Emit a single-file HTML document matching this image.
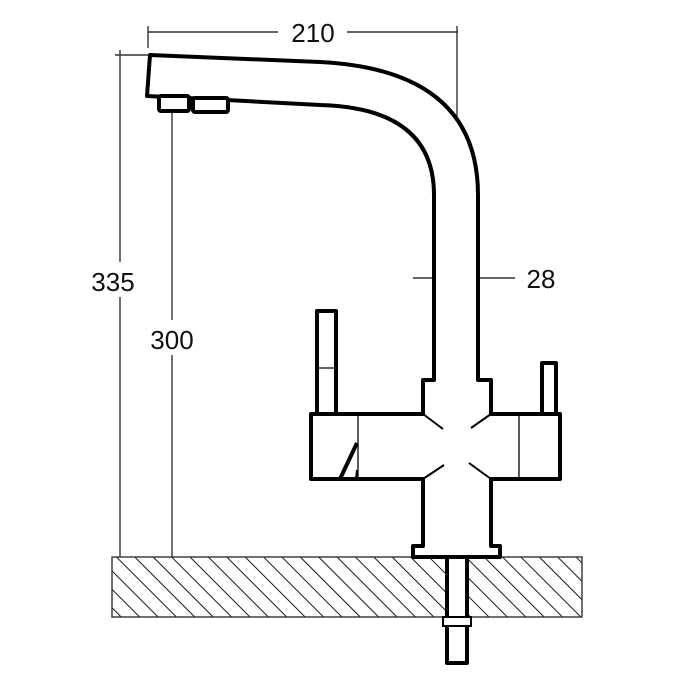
<!DOCTYPE html>
<html><head><meta charset="utf-8"><style>
html,body{margin:0;padding:0;background:#fff}
svg{display:block}
text{font-family:"Liberation Sans",sans-serif;font-size:26px;fill:#111}
</style></head><body>
<svg width="680" height="680" viewBox="0 0 680 680">
<defs>
<pattern id="h" width="13" height="13" patternUnits="userSpaceOnUse" patternTransform="rotate(-45)">
<line x1="0" y1="0" x2="0" y2="13" stroke="#000" stroke-width="1.8"/>
</pattern>
</defs>
<rect x="112" y="557" width="470" height="60" fill="url(#h)" stroke="#333" stroke-width="1.4"/>
<g stroke="#333" stroke-width="1.4" fill="none">
<line x1="148" y1="32" x2="278" y2="32"/><line x1="347" y1="32" x2="458" y2="32"/>
<line x1="148" y1="26" x2="148" y2="48"/><line x1="457" y1="26" x2="457" y2="252"/>
<line x1="115" y1="55" x2="148" y2="55"/>
<line x1="120" y1="50" x2="120" y2="262"/><line x1="120" y1="297" x2="120" y2="557"/>
<line x1="172" y1="110" x2="172" y2="320"/><line x1="172" y1="355" x2="172" y2="557"/>
<line x1="413" y1="278" x2="434" y2="278"/><line x1="478" y1="278" x2="515" y2="278"/>
</g>
<text x="313" y="42" text-anchor="middle">210</text>
<text x="113" y="291" text-anchor="middle">335</text>
<text x="172" y="349" text-anchor="middle">300</text>
<text x="541" y="288" text-anchor="middle">28</text>
<g stroke="#000" stroke-width="4" fill="#fff" stroke-linejoin="round">
<path d="M150 55 L320 62 Q478 70 478 195 L478 380 L491 380 L491 414 L560 414 L560 479 L491 479 L491 546 L500 546 L500 557 L413 557 L413 546 L423 546 L423 479 L358 479 L311 479 L311 414 L423 414 L423 380 L434 380 L434 195 Q434 108 320 105 L227 100 L147 96 Z"/>
<rect x="159" y="96" width="30" height="15" rx="2"/>
<rect x="193" y="98" width="35" height="14" rx="2"/>
<rect x="317" y="311" width="19" height="103"/>
<rect x="542" y="363" width="14" height="51"/>
<rect x="447" y="557" width="20" height="106"/>
<path d="M340 479 L357 443"/>
</g>
<g stroke="#000" stroke-width="1.3" fill="none">
<line x1="317" y1="368" x2="336" y2="368"/>
<line x1="358" y1="414" x2="358" y2="479"/>
<line x1="519" y1="414" x2="519" y2="479"/>
</g>
<rect x="443" y="617" width="28" height="9" stroke="#000" stroke-width="2" fill="#fff"/>
<line x1="447" y1="626" x2="467" y2="626" stroke="#000" stroke-width="1"/>
<g stroke="#000" stroke-width="2" fill="none">
<line x1="423" y1="414" x2="443" y2="429"/><line x1="491" y1="414" x2="471" y2="428"/>
<line x1="423" y1="479" x2="444" y2="465"/><line x1="491" y1="479" x2="469" y2="463"/>
<line x1="357" y1="470" x2="356" y2="479"/>
</g>
</svg>
</body></html>
